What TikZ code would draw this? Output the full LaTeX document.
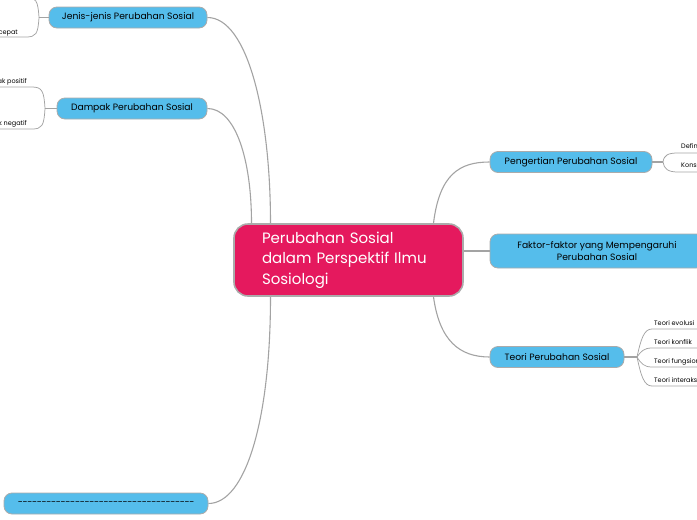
\documentclass[tikz,border=0pt]{standalone}
\usepackage{fontspec}
\setmainfont{Poppins}
\usetikzlibrary{positioning,calc}
\definecolor{mapRoot}{HTML}{E5195E}
\definecolor{mapTopic}{HTML}{55BDEB}
\colorlet{mapEdge}{black!33}
\colorlet{mapLine}{black!36}
\newcommand{\dashrow}{\foreach \d in {1,...,37}{-\kern-0.3pt}}
\tikzset{
  % central theme
  rootnode/.style={
    rounded corners=14pt,
    fill=mapRoot,
    draw=mapEdge,
    line width=1.6pt,
    text=white,
    align=left,
    text width=173pt,
    minimum width=229pt,
    minimum height=72pt,
    font=\fontsize{15}{20.5}\selectfont
  },
  % main topics
  topic/.style={
    rounded corners=8pt,
    fill=mapTopic,
    draw=mapEdge,
    line width=0.8pt,
    inner sep=0pt,
    minimum height=21pt,
    align=center,
    font=\fontsize{9.2}{12}\selectfont
  },
  % subtopics (plain text on a line)
  leaftext/.style={
    inner sep=0pt,
    font=\fontsize{6.5}{8}\selectfont
  },
  branch/.style={
    draw=mapLine,
    line width=1.1pt
  },
  leafline/.style={
    draw=mapLine,
    line width=0.75pt
  }
}
\begin{document}
\begin{tikzpicture}[x=1pt,y=-1pt]
\useasboundingbox (0,0) rectangle (697,520);
\clip (0,0) rectangle (697,520);

\node[rootnode] (root) at (348.5,260) {Perubahan Sosial\\dalam Perspektif Ilmu\\Sosiologi};

% left topics
\node[topic, minimum width=158pt] (jenis) at (128,17.5) {Jenis-jenis Perubahan Sosial};
\node[topic, minimum width=150pt] (dampak) at (132,108.5) {Dampak Perubahan Sosial};
\node[topic, minimum width=204pt] (garis) at (106,503.5) {\dashrow};

% right topics
\node[topic, minimum width=162pt] (pengertian) at (571,162) {Pengertian Perubahan Sosial};
\node[topic, minimum width=214pt, minimum height=34pt] (faktor) at (597,251)
{Faktor-faktor yang Mempengaruhi\\Perubahan Sosial};
\node[topic, minimum width=134pt] (teori) at (557,357) {Teori Perubahan Sosial};

\draw[branch] ([xshift=-78pt]root.north) .. controls +(0,-110) and +(40,0) .. (jenis.east);
\draw[branch] ([xshift=-97pt]root.north) .. controls +(0,-64) and +(28,0) .. (dampak.east);
\draw[branch] ([xshift=-78pt]root.south) .. controls +(0,124) and +(37,0) .. (garis.east);
\draw[branch] ([xshift=85pt]root.north) .. controls +(6,-49) and +(-30,0) .. (pengertian.west);
\draw[branch] (root.east |- faktor.west) -- (faktor.west);
\draw[branch] ([xshift=85pt]root.south) .. controls +(6,44) and +(-30,0) .. (teori.west);

% subtopics of Jenis-jenis
\coordinate (jenisfork) at (39,17.5);
\coordinate (jenisA) at (-10,-3);
\coordinate (jenisB) at (-10,37);
\node[leaftext, anchor=base east] (cepat) at (18,34) {Perubahan cepat};
\draw[branch] (jenis.west) -- (jenisfork);
\draw[leafline] (jenisfork) .. controls (38,1) and (36,-3) .. (26,-3) -- (jenisA);
\draw[leafline] (jenisfork) .. controls (38,34) and (36,37) .. (26,37) -- (jenisB);

% subtopics of Dampak
\coordinate (dampakfork) at (45,108.5);
\coordinate (dampakA) at (-10,87);
\coordinate (dampakB) at (-10,129);
\node[leaftext, anchor=base east] (positif) at (27,83) {Dampak positif};
\node[leaftext, anchor=base east] (negatif) at (27,125) {Dampak negatif};
\draw[branch] (dampak.west) -- (dampakfork);
\draw[leafline] (dampakfork) .. controls (44,91) and (42,87) .. (32,87) -- (dampakA);
\draw[leafline] (dampakfork) .. controls (44,126) and (42,129) .. (32,129) -- (dampakB);

% subtopics of Pengertian
\coordinate (pengfork) at (663,162);
\coordinate (pengA) at (710,153);
\coordinate (pengB) at (710,172);
\node[leaftext, anchor=base west] (definisi) at (681,148) {Definisi perubahan sosial};
\node[leaftext, anchor=base west] (konsep) at (681,167) {Konsep perubahan sosial};
\draw[branch] (pengertian.east) -- (pengfork);
\draw[leafline] (pengfork) .. controls (664,155) and (668,153) .. (678,153) -- (pengA);
\draw[leafline] (pengfork) .. controls (664,169) and (668,172) .. (678,172) -- (pengB);

% subtopics of Teori
\coordinate (teorifork) at (637,357);
\draw[branch] (teori.east) -- (teorifork);
\foreach \ty/\tname/\ttext in {329/evolusi/Teori evolusi, 348/konflik/Teori konflik,
  367/fungsi/Teori fungsionalisme, 386/interaksi/Teori interaksionisme}{
  \node[leaftext, anchor=base west] (\tname) at (654,\ty-4) {\ttext};
  \coordinate (\tname line) at (710,\ty);
  \draw[leafline] (teorifork) .. controls (641,{0.35*357+0.65*\ty}) and (644,\ty) .. (652,\ty) -- (\tname line);
}

\end{tikzpicture}
\end{document}
